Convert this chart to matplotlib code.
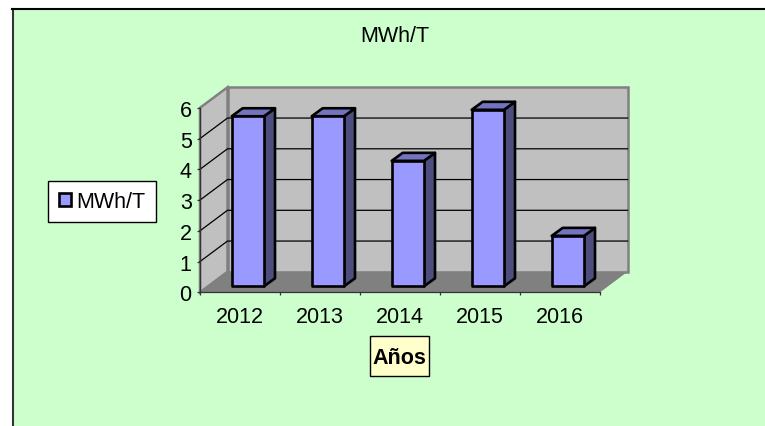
import matplotlib
matplotlib.use("Agg")
import matplotlib.pyplot as plt
from matplotlib.patches import Polygon, Rectangle

plt.rcParams['font.family'] = ['Liberation Sans', 'DejaVu Sans']

years = ['2012', '2013', '2014', '2015', '2016']
values = [5.53, 5.53, 4.08, 5.74, 1.64]
series_name = 'MWh/T'
axis_label = 'Años'
y_ticks = [0, 1, 2, 3, 4, 5, 6]

W, H = 765, 427
FS = 15.5
fig = plt.figure(figsize=(W / 100, H / 100), dpi=100, facecolor='white')

def fx(px): return px / W
def fy(py): return 1 - py / H

# chart area background with left/top border
fig.patches.append(Rectangle((fx(12), 0), 1 - fx(12), fy(10), transform=fig.transFigure,
                             facecolor='#CCFFCC', edgecolor='none', zorder=-1))
fig.add_artist(plt.Line2D([fx(13), fx(13)], [0, fy(9.5)], color='#333333', lw=1.5, zorder=-0.5))
fig.add_artist(plt.Line2D([fx(12), 1], [fy(9.5), fy(9.5)], color='black', lw=1.5, zorder=-0.5))

ax = fig.add_axes([fx(200), fy(293.3), fx(400), (293.3 - 108.8) / H])
ax.set_zorder(2)
ax.patch.set_alpha(0)
ax.set_xlim(0, 5)
ax.set_ylim(0, 6)

unit_x = 80.0
unit_y = (293.3 - 108.8) / 6
wall_dx = 27.5 / unit_x
wall_dy = 20.5 / unit_y

# back wall, side wall, floor
top = 6
ax.add_patch(Polygon([(wall_dx, wall_dy), (5 + wall_dx, wall_dy), (5 + wall_dx, top + wall_dy),
                      (wall_dx, top + wall_dy)], closed=True, facecolor='#C0C0C0', edgecolor='#808080',
                     lw=1.8, clip_on=False, zorder=1))
ax.add_patch(Polygon([(0, 0), (wall_dx, wall_dy), (wall_dx, top + wall_dy), (0, top)], closed=True,
                     facecolor='#C0C0C0', edgecolor='#808080', lw=1.8, clip_on=False, zorder=1))
ax.add_patch(Polygon([(0, 0), (5, 0), (5 + wall_dx, wall_dy), (wall_dx, wall_dy)], closed=True,
                     facecolor='#808080', edgecolor='none', clip_on=False, zorder=2))

# gridlines
for v in y_ticks[1:-1]:
    ax.plot([0, wall_dx, 5 + wall_dx], [v, v + wall_dy, v + wall_dy], color='black', lw=0.9,
            clip_on=False, zorder=3, solid_joinstyle='miter')

# 3D bars
bar_left = 31.7 / unit_x
bar_w = 32.3 / unit_x
bar_base = 6 / unit_y
depth_x = 11 / unit_x
depth_y = 8 / unit_y
for i, v in enumerate(values):
    x0 = i + bar_left
    x1 = x0 + bar_w
    y0 = bar_base
    y1 = bar_base + v
    kw = dict(closed=True, edgecolor='black', lw=1.9, clip_on=False, zorder=5, joinstyle='round')
    ax.add_patch(Polygon([(x1, y0), (x1 + depth_x, y0 + depth_y), (x1 + depth_x, y1 + depth_y), (x1, y1)],
                         facecolor='#4D4D80', **kw))
    ax.add_patch(Polygon([(x0, y1), (x1, y1), (x1 + depth_x, y1 + depth_y), (x0 + depth_x, y1 + depth_y)],
                         facecolor='#7373BF', **kw))
    ax.add_patch(Polygon([(x0, y0), (x1, y0), (x1, y1), (x0, y1)], facecolor='#9999FF', **kw))

# axes
for s in ['top', 'right']:
    ax.spines[s].set_visible(False)
for s in ['left', 'bottom']:
    ax.spines[s].set_color('#333333')
    ax.spines[s].set_linewidth(0.9)
    ax.spines[s].set_zorder(4)
ax.set_yticks(y_ticks)
ax.set_xticks(range(6))
ax.set_xticklabels([])
ax.set_xticks([i + 0.5 for i in range(5)], minor=True)
ax.set_xticklabels(years, minor=True)
ax.tick_params(axis='x', which='major', length=2.5, width=0.9, color='#333333')
ax.tick_params(axis='x', which='minor', length=0, pad=10.2, labelsize=FS)
ax.tick_params(axis='y', length=2.5, width=0.9, color='#333333', pad=3.5, labelsize=FS)

# title
fig.text(fx(394.5), fy(36), series_name, ha='center', va='center', fontsize=FS)

# legend
handle = Rectangle((0, 0), 1, 1, facecolor='#9999FF', edgecolor='black', lw=1.9)
leg = fig.legend([handle], [series_name], loc='center', bbox_to_anchor=(fx(102), fy(202.5)),
                 fontsize=FS, fancybox=False, framealpha=1, facecolor='white', edgecolor='black',
                 handlelength=0.55, handleheight=0.55, handletextpad=0.25, borderpad=0.48, borderaxespad=0)
leg.get_frame().set_linewidth(1.0)

# axis label box
fig.patches.append(Rectangle((fx(370), fy(377)), 59 / W, 40 / H, transform=fig.transFigure,
                             facecolor='#FFFFCC', edgecolor='black', lw=1.0, zorder=1))
fig.text(fx(399.5), fy(358), axis_label, ha='center', va='center', fontsize=FS, fontweight='bold')

fig.savefig('out.png', dpi=100)
